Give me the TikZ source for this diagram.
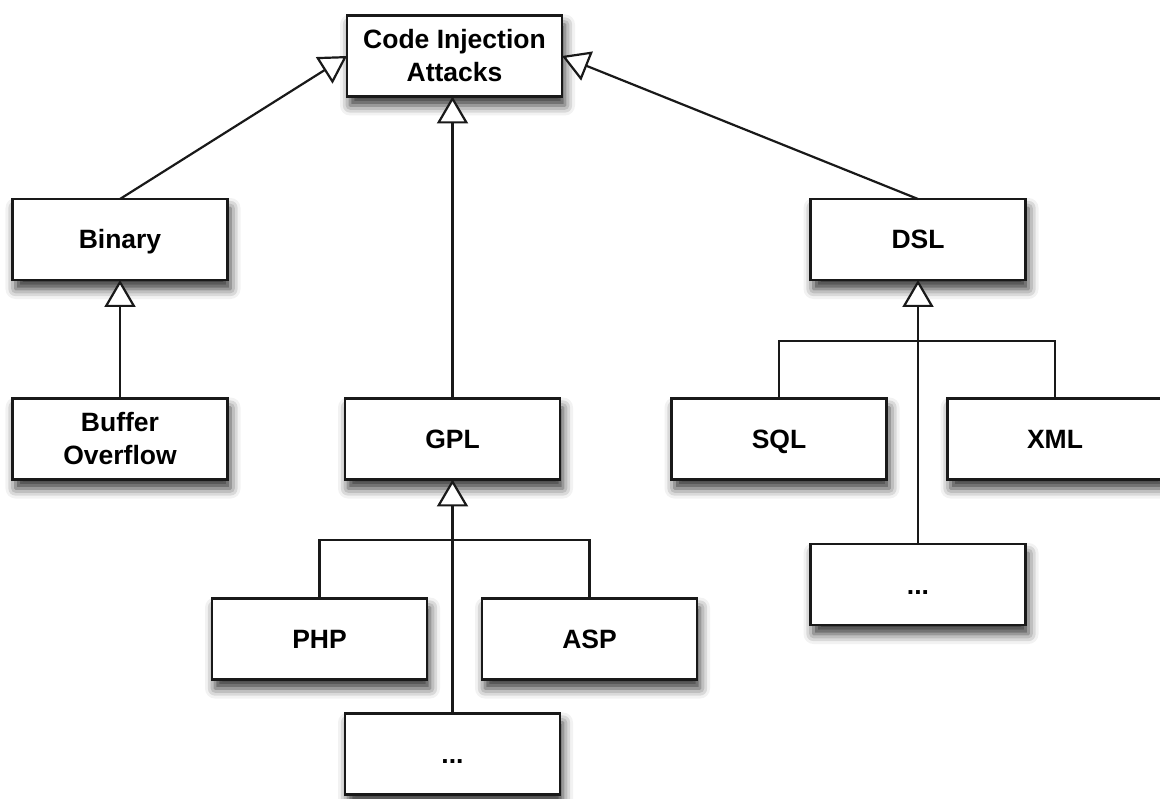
\documentclass[tikz,border=0pt]{standalone}
\usepackage{fontspec}
\setmainfont{Liberation Sans}
\usetikzlibrary{arrows.meta,shadows.blur}
\tikzset{
  box/.style={draw=black!90, line width=2.2pt, fill=white, minimum width=215pt, minimum height=81pt,
    inner sep=0pt, outer sep=0pt, align=center,
    font=\fontsize{26.5pt}{33pt}\selectfont\bfseries,
    blur shadow={shadow xshift=3pt, shadow yshift=-9pt, shadow blur radius=10pt, shadow opacity=80}},
  one/.style={text height=19pt, text depth=0pt},
  conn/.style={draw=black!90, line width=2.2pt},
  gen/.style={conn, -{Triangle[open, length=27pt, width=31pt, fill=white, line width=2.2pt]}}
}
\begin{document}
\begin{tikzpicture}[x=1pt,y=-1pt]
\useasboundingbox (0,0) rectangle (1160,799);
\clip (0,0) rectangle (1160,799);
\node[box] (cia) at (454.5,56) {Code Injection\\Attacks};
\node[box,one] (bin) at (120,239.5) {Binary};
\node[box] (buf) at (120,439) {Buffer\\Overflow};
\node[box,one] (gpl) at (452.5,439) {GPL};
\node[box,one] (php) at (319.5,639) {PHP};
\node[box,one] (asp) at (589.5,639) {ASP};
\node[box,one] (gdots) at (452.5,754) {...};
\node[box,one] (dsl) at (918,239.5) {DSL};
\node[box,one] (sql) at (779,439) {SQL};
\node[box,one] (xml) at (1055,439) {XML};
\node[box,one] (ddots) at (918,584.5) {...};
\coordinate (gbar) at (0,540);
\coordinate (dbar) at (0,341);
% generalisation arrows
\draw[gen] (bin.north) -- (cia.west);
\draw[gen] (dsl.north) -- (cia.east);
\draw[gen] (gpl.north) -- (gpl.north |- cia.south);
\draw[gen] (buf.north) -- (bin.south);
% GPL children
\draw[conn] (php.north) -- (php.north |- gbar) -- (asp.north |- gbar) -- (asp.north);
\draw[gen] (gdots.north) -- (gpl.south);
% DSL children
\draw[conn] (sql.north) -- (sql.north |- dbar) -- (xml.north |- dbar) -- (xml.north);
\draw[gen] (ddots.north) -- (dsl.south);
\end{tikzpicture}
\end{document}
